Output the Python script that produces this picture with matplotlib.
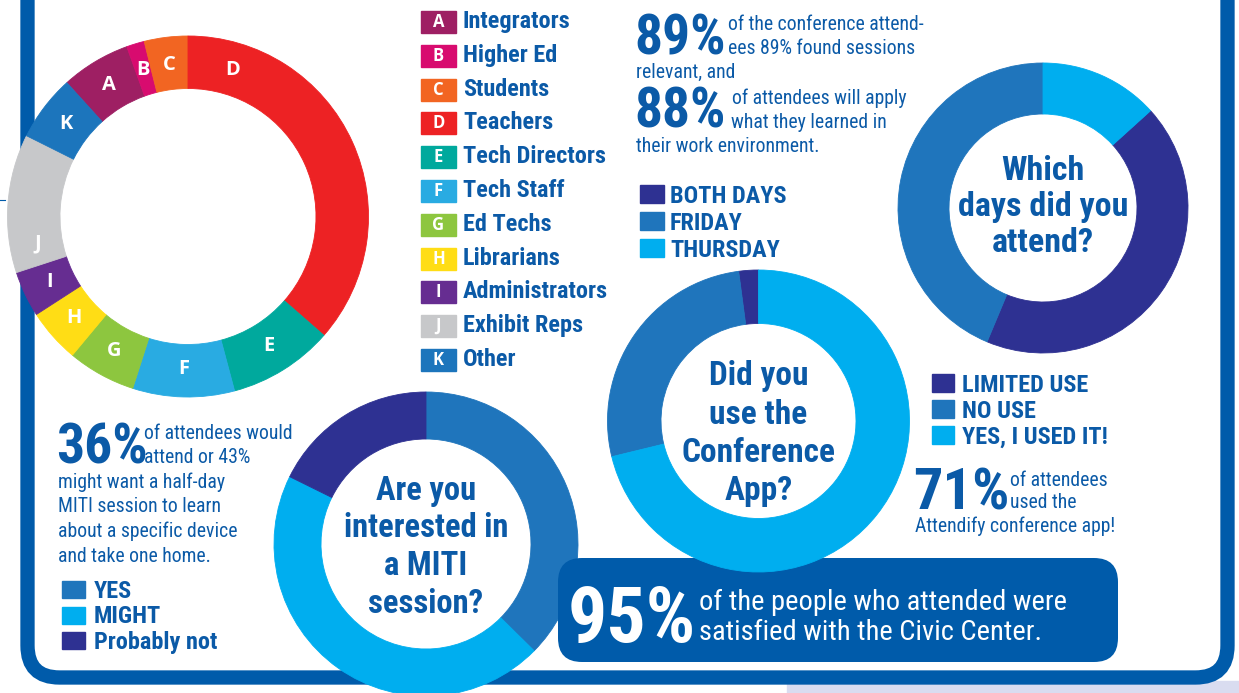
import matplotlib
matplotlib.use('Agg')
import matplotlib.pyplot as plt
from matplotlib import font_manager
from matplotlib.patches import FancyBboxPatch, Rectangle
import numpy as np

W, H = 1239, 693

# who attended (letters A-K), share in %
role_letters = ['A', 'B', 'C', 'D', 'E', 'F', 'G', 'H', 'I', 'J', 'K']
role_names = ['Integrators', 'Higher Ed', 'Students', 'Teachers', 'Tech Directors',
              'Tech Staff', 'Ed Techs', 'Librarians', 'Administrators',
              'Exhibit Reps', 'Other']
role_share = [6.2, 1.6, 3.9, 36.4, 9.4, 9.1, 6.1, 4.8, 4.1, 12.4, 5.9]
role_colors = ['#9E1F63', '#D80B6F', '#F26522', '#ED2224', '#00A99D', '#29ABE2',
               '#8DC63F', '#FFDD15', '#662D91', '#C7C8CA', '#1C75BC']

# which days did you attend
day_labels = ['BOTH DAYS', 'FRIDAY', 'THURSDAY']
day_share = [43.0, 43.7, 13.3]

# did you use the conference app
app_labels = ['LIMITED USE', 'NO USE', 'YES, I USED IT!']
app_share = [2.1, 26.7, 71.2]

# interested in a MITI session
miti_labels = ['YES', 'MIGHT', 'Probably not']
miti_share = [37.4, 44.9, 17.7]

NAVY = '#2E3192'
MID = '#1F75BC'
LIGHT = '#00AEEF'
BLUE = '#0B5AA7'
FRAME = '#005BAA'

have = {f.name for f in font_manager.fontManager.ttflist}
COND = 'DejaVu Sans'
for cand in ['Liberation Sans Narrow', 'Roboto Condensed', 'Open Sans Condensed',
             'DejaVu Sans Condensed', 'Noto Sans']:
    if cand in have:
        COND = cand
        break
LETTER = 'Open Sans' if 'Open Sans' in have else 'DejaVu Sans'


def Y(y):
    # picture rows run downwards
    return H - y


fig = plt.figure(figsize=(W / 100, H / 100), dpi=100)
ax = fig.add_axes([0, 0, 1, 1])

# light shadow strip and the rounded frame
ax.add_patch(Rectangle((787, Y(693)), W - 787, 12, color='#D9DCF0', zorder=0))
ax.add_patch(FancyBboxPatch((27.5, Y(677.5)), 1200, 760, boxstyle='round,pad=0,rounding_size=32',
                            fc='white', ec=FRAME, lw=10.3, zorder=1))
ax.plot([0, 5], [Y(200), Y(200)], color=FRAME, lw=0.8, zorder=1)


def donut(vals, colors, cx, cy, r, w, start, ccw, z):
    wedges, _ = ax.pie(vals, colors=colors, radius=r, center=(cx, Y(cy)),
                       startangle=start, counterclock=ccw, frame=True,
                       wedgeprops=dict(width=w, linewidth=0.6))
    for wd in wedges:
        wd.set_edgecolor(wd.get_facecolor())
        wd.set_zorder(z)
    return wedges


# roles donut
tot = sum(role_share)
rw = donut(role_share, role_colors, 188, 216.5, 180.5, 52.5,
           90 + 360 * sum(role_share[:3]) / tot, False, 3)
label_at = [0.5, 0.5, 0.5, 0.13, 0.5, 0.5, 0.5, 0.5, 0.5, 0.18, 0.5]
for wd, let, f in zip(rw, role_letters, label_at):
    a = np.deg2rad(wd.theta2 - f * (wd.theta2 - wd.theta1))
    ax.text(188 + 153 * np.cos(a), Y(216.5) + 153 * np.sin(a), let, color='white',
            fontsize=14.5, fontweight='bold', family=LETTER, ha='center', va='center', zorder=4)

# roles legend
for i, (let, name, c) in enumerate(zip(role_letters, role_names, role_colors)):
    yc = 22.2 + i * 33.76
    ax.add_patch(Rectangle((421, Y(yc + 11)), 35, 22, color=c, zorder=3))
    ax.text(438.5, Y(yc), let, color='white', fontsize=12, fontweight='bold',
            family=LETTER, ha='center', va='center', zorder=4)
    ax.text(463, Y(yc + 6), name, color=BLUE, fontsize=17.5, fontweight='bold',
            family=COND, ha='left', va='baseline', zorder=4)

# which days donut
dcol = [NAVY, MID, LIGHT]
donut(day_share, dcol, 1043, 208, 145, 51, 90 - 360 * day_share[2] / sum(day_share), False, 3)
for t, b in zip(['Which', 'days did you', 'attend?'], [180, 216, 252]):
    ax.text(1043, Y(b), t, color=BLUE, fontsize=24.5, fontweight='bold', family=COND,
            ha='center', va='baseline', zorder=4)
for i, (lab, c) in enumerate(zip(day_labels, dcol)):
    yc = 194 + i * 27
    ax.add_patch(Rectangle((640, Y(yc + 9)), 24, 18, color=c, zorder=3))
    ax.text(670, Y(yc + 9), lab, color=BLUE, fontsize=17.5, fontweight='bold',
            family=COND, ha='left', va='baseline', zorder=4)

# app donut
acol = [NAVY, MID, LIGHT]
donut(app_share, acol, 758.5, 421, 151, 53.5, 90, True, 6)
for t, b in zip(['Did you', 'use the', 'Conference', 'App?'], [385, 423.5, 461.5, 500]):
    ax.text(758.5, Y(b), t, color=BLUE, fontsize=24, fontweight='bold', family=COND,
            ha='center', va='baseline', zorder=7)
for i, (lab, c) in enumerate(zip(app_labels, acol)):
    yc = 383 + i * 25.8
    ax.add_patch(Rectangle((932, Y(yc + 9)), 22, 18, color=c, zorder=3))
    ax.text(962, Y(yc + 9.5), lab, color=BLUE, fontsize=17.5, fontweight='bold',
            family=COND, ha='left', va='baseline', zorder=4)

# MITI donut
mcol = [MID, LIGHT, NAVY]
donut(miti_share, mcol, 426, 544, 152, 47, 90, False, 3)
for t, b in zip(['Are you', 'interested in', 'a MITI', 'session?'], [500, 537, 575, 613]):
    ax.text(426, Y(b), t, color=BLUE, fontsize=23.5, fontweight='bold', family=COND,
            ha='center', va='baseline', zorder=4)
for i, (lab, c) in enumerate(zip(miti_labels, mcol)):
    yc = 589.5 + i * 25.5
    ax.add_patch(Rectangle((62, Y(yc + 8.5)), 23, 17, color=c, zorder=3))
    ax.text(94, Y(yc + 8), lab, color=BLUE, fontsize=17.5, fontweight='bold',
            family=COND, ha='left', va='baseline', zorder=4)

# stat call-outs
def big(x, b, s, c=BLUE, fs=40, z=4):
    ax.text(x, Y(b), s, color=c, fontsize=fs, fontweight='bold', family=COND,
            ha='left', va='baseline', zorder=z)


def body(x, b, s, c=BLUE, fs=14.2, z=4):
    ax.text(x, Y(b), s, color=c, fontsize=fs, family=COND, ha='left', va='baseline', zorder=z)


big(634, 54.5, '89%')
body(728, 30.5, 'of the conference attend-')
body(728, 53.5, 'ees 89% found sessions')
body(636, 78, 'relevant, and')
big(634, 128, '88%')
body(732, 104, 'of attendees will apply')
body(731, 128, 'what they learned in')
body(636, 152, 'their work environment.')

big(56, 463, '36%')
body(144, 439, 'of attendees would')
body(144, 463, 'attend or 43%')
for k, t in enumerate(['might want a half-day', 'MITI session to learn',
                       'about a specific device', 'and take one home.']):
    body(58, 487.5 + k * 24.7, t)

big(913, 510, '71%', fs=42)
body(1010, 486, 'of attendees')
body(1010, 508, 'used the')
body(915, 532, 'Attendify conference app!')

# satisfaction box
ax.add_patch(FancyBboxPatch((558, Y(662)), 560, 104, boxstyle='round,pad=0,rounding_size=24',
                            fc=FRAME, ec='none', zorder=5))
big(568, 642, '95%', c='white', fs=56, z=6)
body(699, 610, 'of the people who attended were', c='white', fs=20.5, z=6)
body(699, 640, 'satisfied with the Civic Center.', c='white', fs=20.5, z=6)

ax.set_xlim(0, W)
ax.set_ylim(0, H)
ax.set_aspect('auto')
ax.axis('off')
fig.savefig('out.png', dpi=100, facecolor='white')
